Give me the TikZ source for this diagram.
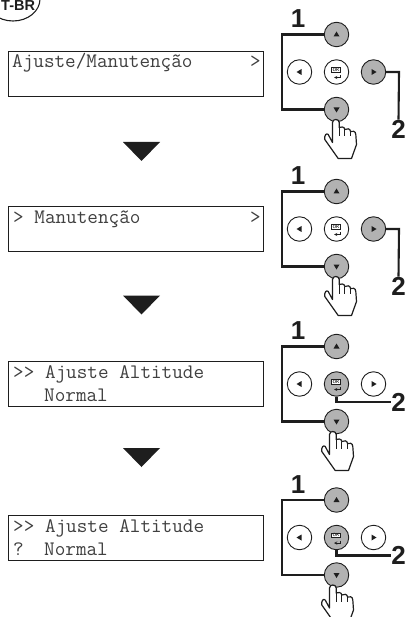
\documentclass[tikz,border=0pt]{standalone}
\usepackage{fontspec}
\setmainfont{Liberation Sans}
\usetikzlibrary{arrows,shapes.geometric}
\definecolor{G}{RGB}{178, 178, 178}
\definecolor{K}{RGB}{30, 30, 30}
\tikzset{
	lcd/.style={draw=K, line width=0.9pt, minimum width=255pt, minimum height=45pt, inner sep=0pt},
	lcdtxt/.style={anchor=base west, inner sep=0pt, text=K!85!white, font=\ttfamily\fontsize{20.6}{20.6}\selectfont},
	btn/.style={circle, draw=K, line width=0.9pt, minimum size=24.5pt, inner sep=0pt},
	wire/.style={draw=K, line width=2.1pt},
	num/.style={inner sep=0pt, text=K, font=\bfseries\fontsize{26}{26}\selectfont},
	oklbl/.style={draw=K, line width=0.4pt, minimum width=9pt, minimum height=4.6pt, inner sep=0pt, text=K, font=\sffamily\bfseries\fontsize{4.5}{4.5}\selectfont},
	hand/.pic={
		\draw[draw=K, fill=white, line width=1.2pt, line join=round]
			(-4,33) -- (-4,13) .. controls (-4,9) and (2.7,9) .. (2.7,13) -- (2.7,18)
			.. controls (4,17) and (8,17) .. (8.3,20) .. controls (10,18.5) and (14,19) .. (14,22)
			.. controls (15.5,21) and (19.3,21.5) .. (19.3,25) -- (20,35) -- (15,49) -- (1.7,49)
			-- (-11.7,30) .. controls (-12.5,26) and (-10,23) .. (-8.3,25) -- cycle;
		\draw[draw=K, line width=1.2pt] (2.7,18) -- (2.7,27) (8.3,20) -- (8.3,27) (14,22) -- (14,27);
	}
}
\begin{document}
\begin{tikzpicture}[x=1pt,y=-1pt]
	\clip (0,0) rectangle (406,617);
	%Etiqueta de idioma
	\node[draw=K, line width=1.1pt, ellipse, minimum width=54pt, minimum height=44pt, inner sep=0pt] (lang) at (13,-1) {};
	\node[anchor=base west, inner sep=0pt, text=K, font=\bfseries\fontsize{14.5}{14.5}\selectfont] (langtxt) at (1,10.6) {T-BR};

	%Telas
	\node[lcd] (lcd1) at (136,73.7) {};
	\node[lcdtxt] (a1) at (12,68) {Ajuste/Manutenção};
	\node[lcdtxt] (a2) at (250,68) {>};

	\node[lcd] (lcd2) at (136,229.2) {};
	\node[lcdtxt] (b1) at (13,224) {> Manutenção};
	\node[lcdtxt] (b2) at (250,224) {>};

	\node[lcd] (lcd3) at (136,383.5) {};
	\node[lcdtxt] (c1) at (13,378) {>> Ajuste Altitude};
	\node[lcdtxt] (c2) at (44,401) {Normal};

	\node[lcd] (lcd4) at (136,537.7) {};
	\node[lcdtxt] (d1) at (13,532) {>> Ajuste Altitude};
	\node[lcdtxt] (d2) at (13,555) {?};
	\node[lcdtxt] (d3) at (44,555) {Normal};

	%Setas grandes
	\foreach \y in {142,295.5,448}
		\fill[K] (123,\y) -- (160,\y) -- (141.5,\y+19) -- cycle;

	%Botoes
	\foreach \n/\y/\cr/\co/\h in {1/72/G/white/0, 2/229/G/white/0, 3/384/white/G/-3, 4/537.5/white/G/-3}{
		\node[btn, fill=G] (up\n) at (336.5,\y-37.5) {};
		\node[btn, fill=white] (left\n) at (299.5,\y) {};
		\node[btn, fill=\co] (ok\n) at (336.5,\y) {};
		\node[btn, fill=\cr] (right\n) at (373.5,\y) {};
		\node[btn, fill=G] (down\n) at (336.5,\y+37.5) {};

		\fill[K] (336.5-3,\y-35.5) -- (336.5+3,\y-35.5) -- (336.5,\y-40.5) -- cycle;
		\fill[K] (336.5-3,\y+35.5) -- (336.5+3,\y+35.5) -- (336.5,\y+40.5) -- cycle;
		\fill[K] (301.5,\y-3) -- (301.5,\y+3) -- (296.5,\y) -- cycle;
		\fill[K] (371.5,\y-3) -- (371.5,\y+3) -- (376.5,\y) -- cycle;

		\node[oklbl, fill=white] (okt\n) at (336,\y-2.2) {OK};
		\draw[K, line width=0.5pt, -stealth] (340.5,\y+3) -- (340.5,\y+5.5) -- (334,\y+5.5);

		\draw[wire] (up\n.west) -- (282,\y-37.5) -- (282,\y+37.5) -- (down\n.west);
		\node[num] (one\n) at (298,\y-53) {1};
		\pic at (336.5+\h,\y+37.5) {hand};
	}

	%Fio do 2
	\foreach \n/\y in {1/72,2/229}{
		\coordinate (bend\n) at (399,\y);
		\node[num] (two\n) at (398.5,\y+57) {2};
		\draw[wire] (right\n.east) -- (bend\n) -- (two\n.north);
	}
	\foreach \n/\y in {3/384,4/537.5}{
		\node[num] (two\n) at (398.5,\y+18) {2};
		\draw[wire] (ok\n.south) |- (two\n.west);
	}
\end{tikzpicture}
\end{document}
